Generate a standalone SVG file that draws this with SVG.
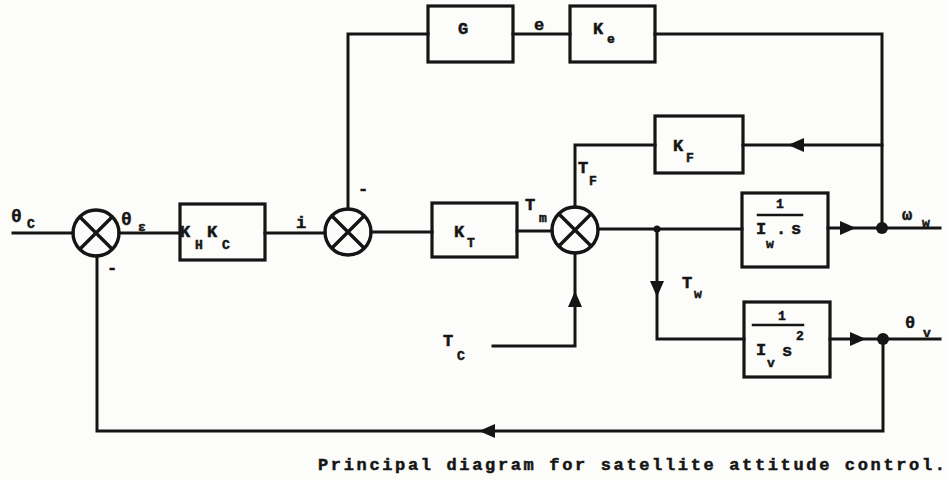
<svg xmlns="http://www.w3.org/2000/svg" xmlns:xlink="http://www.w3.org/1999/xlink" width="948" height="479" viewBox="0 0 948 479">
<style>
.ln{fill:none;stroke:#151515;stroke-width:3;stroke-linecap:square;stroke-linejoin:miter}
.bx{fill:none;stroke:#151515;stroke-width:3.2}
.sm{fill:none;stroke:#151515;stroke-width:3.4}
.t{font-family:"Liberation Mono","DejaVu Sans Mono",monospace;font-weight:bold;fill:#151515;stroke:#151515;stroke-width:0.5}
.m{font-size:17px}
.s{font-size:13px}
.g{font-size:18px}
.dot{fill:#151515}
.ah{fill:#151515}
</style>
<defs>
<path id="ah" class="ah" d="M0,0 L-16,-7 L-16,7 Z"/>
<g id="sum">
<circle r="23" class="sm" cx="0" cy="0"/>
<path class="sm" d="M-16.3,-16.3 L16.3,16.3 M16.3,-16.3 L-16.3,16.3"/>
</g>
</defs>
<rect width="948" height="479" fill="#fcfcfa"/>

<g id="connectors">
<path class="ln" d="M13 233 H73"/>
<path class="ln" d="M119 233 H180"/>
<path class="ln" d="M265 233 H325"/>
<path class="ln" d="M371 232 H432"/>
<path class="ln" d="M517 231 H552"/>
<path class="ln" d="M598 229 H742"/>
<path class="ln" d="M828 228 H940"/>
<path class="ln" d="M882 228 V34 H655"/>
<path class="ln" d="M513 34 H570"/>
<path class="ln" d="M348 209 V34 H428"/>
<path class="ln" d="M882 145 H743"/>
<path class="ln" d="M655 145 H575 V207"/>
<path class="ln" d="M657 229 V339 H744"/>
<path class="ln" d="M830 339 H940"/>
<path class="ln" d="M883 339 V431 H97 V256"/>
<path class="ln" d="M493 346 H575 V253"/>
<use xlink:href="#ah" transform="translate(856,228)"/>
<use xlink:href="#ah" transform="translate(788,145) rotate(180)"/>
<use xlink:href="#ah" transform="translate(657,297) rotate(90)"/>
<use xlink:href="#ah" transform="translate(866,339)"/>
<use xlink:href="#ah" transform="translate(479,431) rotate(180)"/>
<use xlink:href="#ah" transform="translate(575,291) rotate(-90)"/>
<circle class="dot" cx="657" cy="229" r="3.5"/>
<circle class="dot" cx="882" cy="228" r="6"/>
<circle class="dot" cx="883" cy="339" r="6"/>
</g>

<g id="sum1"><use xlink:href="#sum" transform="translate(96,233)"/></g>
<g id="sum2"><use xlink:href="#sum" transform="translate(348,232)"/></g>
<g id="sum3"><use xlink:href="#sum" transform="translate(575,230)"/></g>

<g id="kh-kc">
<rect class="bx" x="180" y="204" width="85" height="56"/>
<text class="t m" x="180" y="237">K</text><text class="t s" x="195" y="249">H</text>
<text class="t m" x="207" y="237">K</text><text class="t s" x="222" y="249">C</text>
</g>
<g id="g-block">
<rect class="bx" x="428" y="6" width="85" height="56"/>
<text class="t m" x="463" y="34" text-anchor="middle">G</text>
</g>
<g id="ke">
<rect class="bx" x="570" y="6" width="85" height="56"/>
<text class="t m" x="593" y="34">K</text><text class="t s" x="607" y="43">e</text>
</g>
<g id="kt">
<rect class="bx" x="432" y="203" width="85" height="54"/>
<text class="t m" x="454" y="237">K</text><text class="t s" x="467" y="247">T</text>
</g>
<g id="kf">
<rect class="bx" x="655" y="116" width="88" height="57"/>
<text class="t m" x="673" y="151">K</text><text class="t s" x="686" y="162">F</text>
</g>
<g id="wheel-rate">
<rect class="bx" x="742" y="193" width="86" height="74"/>
<text class="t s" x="780" y="208" text-anchor="middle">1</text>
<path class="ln" d="M758 215 H802" style="stroke-width:2.5"/>
<text class="t m" x="756" y="234">I</text><text class="t s" x="766" y="248">w</text>
<text class="t m" x="776" y="234">.</text><text class="t m" x="791" y="234">s</text>
</g>
<g id="wheel-angle">
<rect class="bx" x="744" y="302" width="86" height="75"/>
<text class="t s" x="782" y="320" text-anchor="middle">1</text>
<path class="ln" d="M753 325 H803" style="stroke-width:2.5"/>
<text class="t s" x="796" y="340">2</text>
<text class="t m" x="756" y="355">I</text><text class="t s" x="767" y="367">v</text>
<text class="t m" x="782" y="356">s</text>
</g>

<g id="labels">
<text class="t g" x="11" y="222">θ</text><text class="t s" x="27" y="228">C</text>
<text class="t g" x="121" y="225">θ</text><text class="t s" x="138" y="231">ε</text>
<text class="t m" x="112" y="273" text-anchor="middle">-</text>
<text class="t m" x="363" y="194" text-anchor="middle">-</text>
<text class="t m" x="296" y="228">i</text>
<text class="t m" x="539" y="30" text-anchor="middle">e</text>
<text class="t m" x="525" y="210">T</text><text class="t s" x="539" y="222">m</text>
<text class="t m" x="578" y="173">T</text><text class="t s" x="589" y="185">F</text>
<text class="t m" x="682" y="288">T</text><text class="t s" x="694" y="298">w</text>
<text class="t m" x="443" y="346">T</text><text class="t s" x="457" y="360">C</text>
<text class="t m" x="902" y="220">ω</text><text class="t s" x="922" y="227">w</text>
<text class="t m" x="905" y="328">θ</text><text class="t s" x="923" y="337">v</text>
</g>

<text class="t" x="318" y="470" font-size="17" textLength="627" lengthAdjust="spacing">Principal diagram for satellite attitude control.</text>
</svg>
